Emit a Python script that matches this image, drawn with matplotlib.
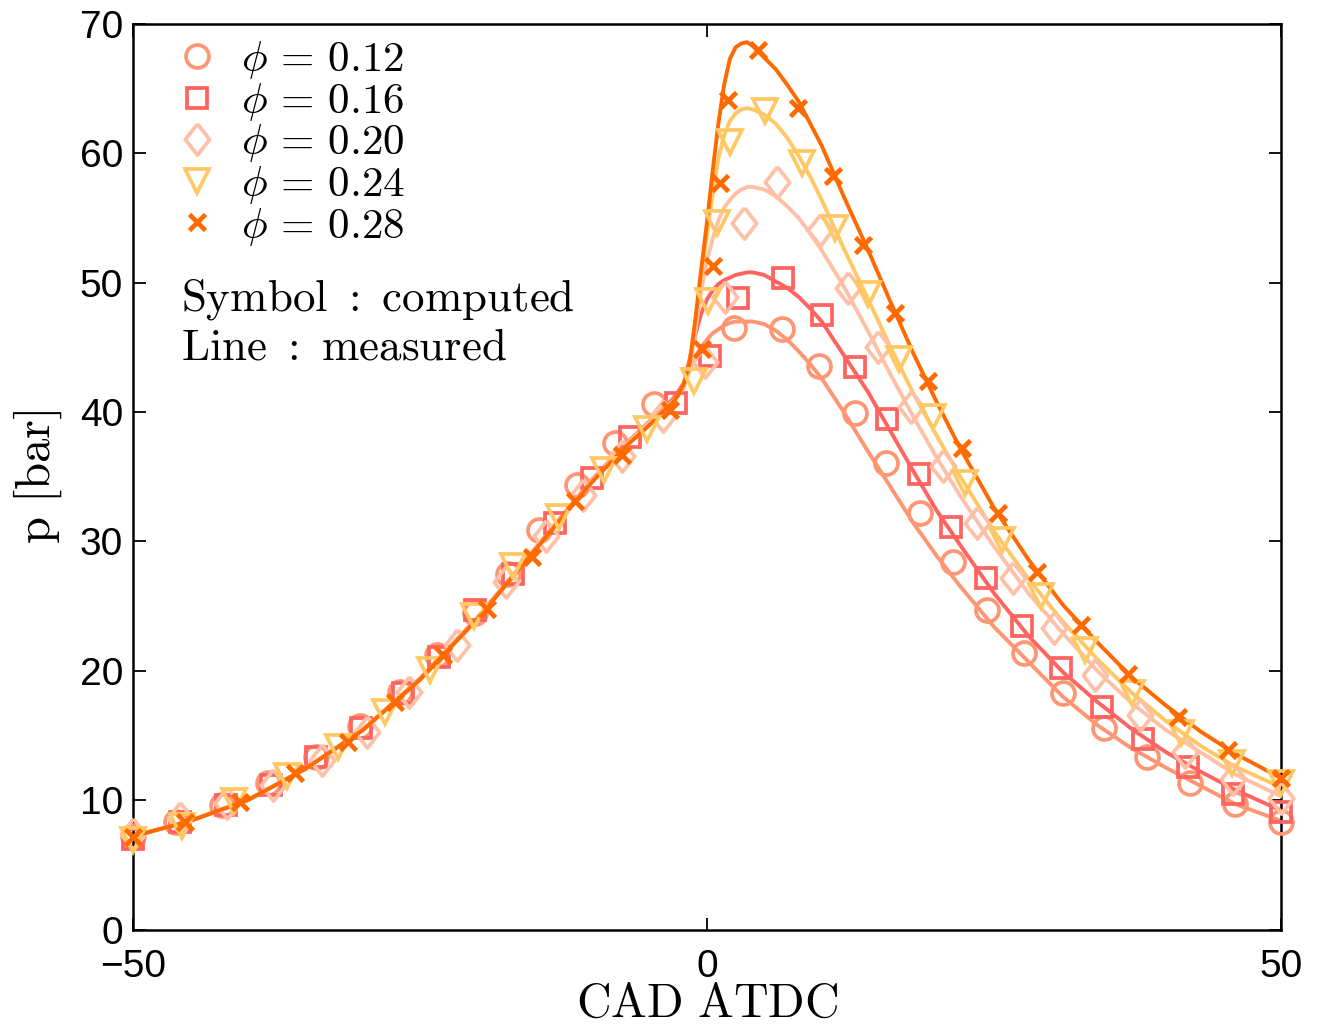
import matplotlib
matplotlib.use("Agg")
import matplotlib.pyplot as plt
from matplotlib.lines import Line2D

plt.rcParams['mathtext.fontset'] = 'cm'
plt.rcParams['font.family'] = ['Liberation Sans', 'DejaVu Sans']

# ---------------- data ----------------
phi_labels = [r'$\phi\,=\,0.12$', r'$\phi\,=\,0.16$', r'$\phi\,=\,0.20$', r'$\phi\,=\,0.24$', r'$\phi\,=\,0.28$']
colors = ['#FF9673', '#FF6460', '#FFC0A6', '#FFC864', '#FF6A00']

# measured (lines): common crank-angle grid
cad_meas = [-50, -45, -40, -35, -30, -25, -20, -15, -10, -7, -5, -4, -3, -2.5, -2, -1.5, -1, -0.5,
            0, 0.5, 1, 1.5, 2, 2.5, 3, 3.5, 4, 5, 6, 7, 8, 9, 10, 12, 14, 16, 18, 20, 22, 25,
            28, 31, 34, 37, 40, 43, 46, 50]

p_meas_012 = [7.2, 8.4, 10.0, 12.4, 15.4, 19.4, 24.1, 29.4, 34.8, 37.6, 39.3, 40.1, 41.0, 41.6, 42.3, 43.4, 44.3, 45.0,
              45.6, 46.1, 46.4, 46.7, 46.9, 47.0, 47.0, 47.0, 47.0, 46.8, 46.3, 45.6, 44.7, 43.7, 42.6, 39.9, 37.0, 34.2,
              31.4, 28.9, 26.6, 23.4, 20.7, 18.0, 15.8, 14.0, 12.5, 11.1, 9.7, 8.4]
p_meas_016 = [7.2, 8.4, 10.0, 12.4, 15.4, 19.3, 24.0, 29.3, 34.7, 37.5, 39.2, 40.0, 40.9, 41.5, 42.2, 44.1, 46.0, 47.6,
              48.7, 49.4, 49.9, 50.2, 50.4, 50.6, 50.7, 50.8, 50.8, 50.6, 50.1, 49.6, 48.9, 48.0, 47.0, 44.3, 41.6, 38.5,
              35.4, 32.4, 29.8, 26.0, 22.7, 19.9, 17.6, 15.5, 13.7, 12.2, 10.8, 9.2]
p_meas_020 = [7.2, 8.4, 10.0, 12.4, 15.4, 19.3, 24.0, 29.3, 34.7, 37.5, 39.2, 40.0, 40.8, 41.3, 41.9, 43.2, 46.3, 49.4,
              51.7, 53.4, 54.8, 55.8, 56.4, 56.9, 57.2, 57.4, 57.4, 57.2, 56.7, 55.9, 55.0, 53.8, 52.5, 49.6, 46.3, 42.9,
              39.6, 36.5, 33.6, 29.6, 26.0, 22.9, 20.0, 17.5, 15.4, 13.7, 12.0, 10.3]
p_meas_024 = [7.2, 8.4, 10.0, 12.4, 15.4, 19.3, 24.0, 29.3, 34.6, 37.4, 39.0, 39.9, 40.7, 41.3, 42.0, 43.6, 46.9, 50.5,
              53.6, 56.8, 59.6, 61.4, 62.5, 63.1, 63.4, 63.5, 63.4, 63.0, 62.3, 61.2, 59.8, 58.2, 56.4, 52.5, 48.8, 45.0,
              41.4, 38.2, 35.1, 30.8, 27.1, 23.8, 20.9, 18.3, 16.1, 14.2, 12.6, 11.0]
p_meas_028 = [7.2, 8.4, 10.0, 12.4, 15.4, 19.3, 24.0, 29.3, 34.6, 37.4, 39.0, 39.9, 40.7, 41.3, 42.2, 43.8, 47.2, 51.0,
              54.6, 58.6, 62.3, 65.3, 67.3, 68.2, 68.5, 68.6, 68.3, 67.4, 66.5, 65.3, 64.0, 62.3, 60.6, 56.5, 52.6, 48.5,
              44.5, 40.8, 37.3, 32.6, 28.6, 25.1, 22.2, 19.5, 17.3, 15.3, 13.6, 11.7]

# computed (symbols)
cad_comp_012 = [-50, -46.2, -42.2, -38.2, -34.0, -30.2, -26.7, -23.5, -20.2, -17.3, -14.6, -11.3, -8.0, -4.6,
                2.4, 6.5, 9.8, 12.9, 15.6, 18.6, 21.4, 24.4, 27.6, 31.0, 34.6, 38.3, 42.1, 46.0, 50.0]
p_comp_012 = [7.2, 8.3, 9.6, 11.3, 13.3, 15.7, 18.4, 21.2, 24.5, 27.5, 30.9, 34.4, 37.6, 40.6,
              46.5, 46.4, 43.6, 39.9, 36.1, 32.2, 28.4, 24.7, 21.4, 18.3, 15.6, 13.3, 11.3, 9.7, 8.35]

cad_comp_016 = [-50, -45.9, -41.9, -38.0, -34.0, -30.1, -26.5, -23.3, -20.2, -16.9, -13.2, -10.0, -6.7, -2.7,
                0.27, 2.7, 6.65, 10.0, 12.9, 15.65, 18.5, 21.3, 24.3, 27.4, 30.8, 34.4, 38.0, 41.9, 45.8, 50.0]
p_comp_016 = [7.0, 8.3, 9.6, 11.2, 13.3, 15.6, 18.3, 21.1, 24.7, 27.5, 31.4, 34.9, 38.1, 40.7,
              44.3, 48.8, 50.4, 47.5, 43.5, 39.5, 35.2, 31.1, 27.2, 23.5, 20.2, 17.2, 14.7, 12.6, 10.5, 9.1]

cad_comp_020 = [-50, -45.9, -41.8, -37.8, -33.5, -29.6, -25.9, -21.8, -17.5, -14.0, -10.8, -7.4, -3.8, -0.2,
                1.6, 3.2, 6.1, 9.85, 12.3, 14.9, 17.8, 20.6, 23.5, 26.7, 30.2, 33.8, 37.7, 41.6, 45.8, 50.0]
p_comp_020 = [7.4, 8.6, 9.8, 11.2, 13.1, 15.3, 18.4, 22.0, 26.9, 30.4, 33.6, 36.6, 39.7, 43.9,
              48.9, 54.6, 57.8, 54.1, 49.6, 45.0, 40.4, 35.8, 31.4, 27.2, 23.3, 19.7, 16.6, 13.75, 11.6, 10.15]

cad_comp_024 = [-50, -45.7, -41.2, -36.6, -32.1, -28.0, -24.1, -20.3, -16.9, -12.9, -9.0, -5.2, -1.1,
                0.1, 0.85, 2.0, 5.06, 8.25, 11.15, 14.05, 16.75, 19.65, 22.5, 25.7, 29.1, 32.9, 37.0, 41.3, 45.7, 50.0]
p_comp_024 = [6.9, 8.0, 9.9, 11.9, 14.1, 16.8, 20.1, 24.2, 28.1, 31.9, 35.5, 38.7, 42.4,
              48.6, 54.6, 60.9, 63.25, 59.25, 54.2, 49.1, 44.1, 39.6, 34.5, 30.1, 25.8, 21.6, 18.3, 15.2, 12.85, 11.3]

cad_comp_028 = [-50, -45.45, -40.66, -35.87, -31.26, -27.16, -22.98, -19.18, -15.26, -11.49, -7.42, -3.21, -0.4,
                0.56, 1.14, 1.86, 4.48, 7.96, 10.94, 13.62, 16.38, 19.28, 22.19, 25.38, 28.75, 32.58, 36.70,
                41.05, 45.41, 50.0]
p_comp_028 = [7.18, 8.34, 9.88, 12.10, 14.52, 17.62, 21.23, 24.79, 28.83, 33.09, 36.70, 40.18, 44.9,
              51.26, 57.71, 64.15, 67.98, 63.51, 58.28, 52.94, 47.66, 42.37, 37.22, 32.19, 27.67, 23.55, 19.76,
              16.46, 13.88, 11.69]

p_meas = [p_meas_012, p_meas_016, p_meas_020, p_meas_024, p_meas_028]
cad_comp = [cad_comp_012, cad_comp_016, cad_comp_020, cad_comp_024, cad_comp_028]
p_comp = [p_comp_012, p_comp_016, p_comp_020, p_comp_024, p_comp_028]

x_ticks = [-50, 0, 50]
y_ticks = [0, 10, 20, 30, 40, 50, 60, 70]

# ---------------- styling ----------------
diamond = [(0, 1), (0.78, 0), (0, -1), (-0.78, 0), (0, 1)]
markers = ['o', 's', diamond, 'v', 'x']
msizes = [16.5, 14.0, 22.5, 17.5, 11.0]
mews = [2.7, 2.7, 2.7, 2.7, 3.4]

fig = plt.figure(figsize=(13.23, 10.27), dpi=100)
ax = fig.add_axes([0.1003, 0.0949, 0.868, 0.8817])

for i in range(5):
    ax.plot(cad_meas, p_meas[i], color=colors[i], lw=2.8, solid_capstyle='round', zorder=2 + i)
for i in range(5):
    fc = 'none' if markers[i] != 'x' else colors[i]
    ax.plot(cad_comp[i], p_comp[i], linestyle='none', marker=markers[i], ms=msizes[i],
            mfc=fc, mec=colors[i], mew=mews[i], clip_on=False, zorder=3 + i)

ax.set_xlim(-50, 50)
ax.set_ylim(0, 70)
ax.set_xticks(x_ticks)
ax.set_yticks(y_ticks)
ax.tick_params(direction='in', length=9, width=1.3, top=True, right=True, labelsize=28)
ax.tick_params(axis='y', pad=7)
ax.tick_params(axis='x', pad=14)
for sp in ax.spines.values():
    sp.set_linewidth(1.8)

ax.set_xlabel(r'$\mathrm{CAD\ ATDC}$', fontsize=34.5)
ax.xaxis.set_label_coords(0.5, -0.058)
ax.set_ylabel(r'$\mathrm{p\ [bar]}$', fontsize=35)
ax.yaxis.set_label_coords(-0.060, 0.5)

handles = [Line2D([], [], linestyle='none', marker=markers[i], ms=msizes[i],
                  mfc=('none' if markers[i] != 'x' else colors[i]), mec=colors[i], mew=mews[i])
           for i in range(5)]
ax.legend(handles, phi_labels, loc='upper left', bbox_to_anchor=(158 / 1323, 1 - 22 / 1027),
          bbox_transform=fig.transFigure, frameon=False, fontsize=31, handlelength=1.0,
          handletextpad=0.53, labelspacing=-0.01, borderaxespad=0, borderpad=0.4)

fig.text(181 / 1323, 1 - 310 / 1027, r'$\mathrm{Symbol\ :\ computed}$', fontsize=32.4, va='baseline')
fig.text(181 / 1323, 1 - 360 / 1027, r'$\mathrm{Line\ :\ measured}$', fontsize=32.4, va='baseline')

fig.savefig('out.png', dpi=100)
